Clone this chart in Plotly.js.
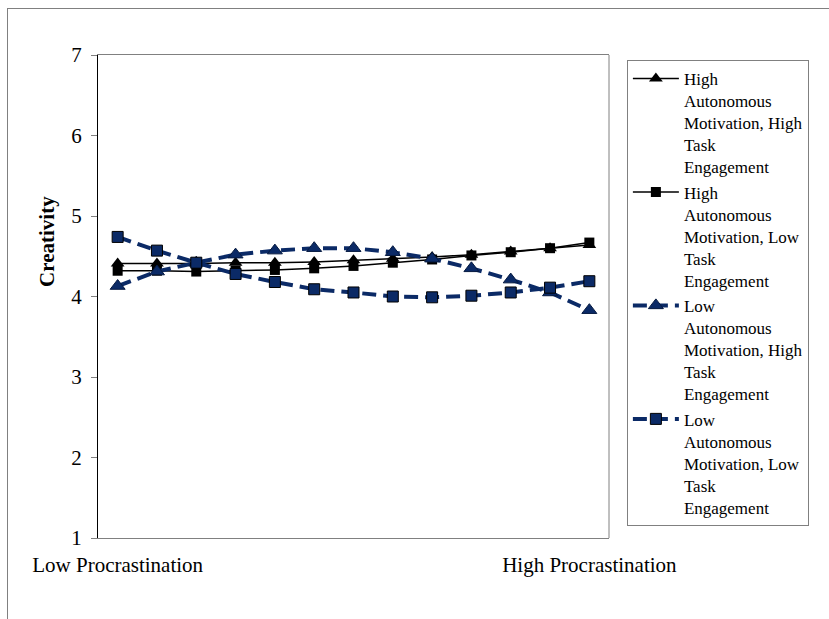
<!DOCTYPE html>
<html>
<head>
<meta charset="utf-8">
<script src="https://cdn.plot.ly/plotly-3.0.1.min.js"></script>
<style>
  html, body { margin: 0; padding: 0; background: #fff; }
  #wrap { position: relative; width: 829px; height: 619px; }
  #chart { width: 829px; height: 619px; }
  #frame { position: absolute; left: 7px; top: 8px; right: 0; bottom: 0;
           border-left: 1px solid #808080; border-top: 1px solid #808080; pointer-events: none; }
</style>
</head>
<body>
<div id="wrap">
  <div id="chart"></div>
  <div id="frame"></div>
</div>
<script>
// Procrastination steps (13 points from low to high)
const xSteps = [0, 1, 2, 3, 4, 5, 6, 7, 8, 9, 10, 11, 12];
const xTickVals = [0, 12];
const xTickText = ["Low Procrastination", "High Procrastination"];
const yTickVals = [1, 2, 3, 4, 5, 6, 7];

const seriesNames = [
  "High<br>Autonomous<br>Motivation, High<br>Task<br>Engagement",
  "High<br>Autonomous<br>Motivation, Low<br>Task<br>Engagement",
  "Low<br>Autonomous<br>Motivation, High<br>Task<br>Engagement",
  "Low<br>Autonomous<br>Motivation, Low<br>Task<br>Engagement"
];

const highAMHighTE = [4.41, 4.41, 4.41, 4.42, 4.42, 4.43, 4.45, 4.47, 4.49, 4.52, 4.56, 4.60, 4.64];
const highAMLowTE  = [4.32, 4.32, 4.31, 4.32, 4.33, 4.35, 4.38, 4.42, 4.46, 4.51, 4.55, 4.60, 4.67];
const lowAMHighTE  = [4.13, 4.31, 4.42, 4.52, 4.57, 4.60, 4.60, 4.55, 4.47, 4.35, 4.21, 4.05, 3.83];
const lowAMLowTE   = [4.74, 4.57, 4.42, 4.28, 4.18, 4.09, 4.05, 4.00, 3.99, 4.01, 4.05, 4.11, 4.19];

const navy = "#0b2a66";
const serif = "'Liberation Serif', 'Times New Roman', serif";

const traces = [
  { x: xSteps, y: highAMHighTE, name: seriesNames[0], type: "scatter", mode: "lines+markers",
    line: { color: "#000", width: 1.5 },
    marker: { symbol: "triangle-up", size: 12, color: "#000" } },
  { x: xSteps, y: highAMLowTE, name: seriesNames[1], type: "scatter", mode: "lines+markers",
    line: { color: "#000", width: 1.5 },
    marker: { symbol: "square", size: 10, color: "#000" } },
  { x: xSteps, y: lowAMHighTE, name: seriesNames[2], type: "scatter", mode: "lines+markers",
    line: { color: navy, width: 4, dash: "14px,7px" },
    marker: { symbol: "triangle-up", size: 13, color: navy, line: { color: "#061a40", width: 1 } } },
  { x: xSteps, y: lowAMLowTE, name: seriesNames[3], type: "scatter", mode: "lines+markers",
    line: { color: navy, width: 4, dash: "14px,7px" },
    marker: { symbol: "square", size: 11, color: navy, line: { color: "#000", width: 1 } } }
];

const layout = {
  width: 829, height: 619,
  margin: { l: 98, r: 220, t: 55, b: 81 },
  paper_bgcolor: "#fff", plot_bgcolor: "#fff",
  showlegend: true,
  font: { family: serif, color: "#000", size: 20 },
  xaxis: {
    range: [-0.5, 12.5], tickvals: xTickVals, ticktext: xTickText,
    showgrid: false, zeroline: false, showline: true, linecolor: "#808080", linewidth: 1,
    mirror: true, ticks: "", ticklabelstandoff: 8,
    tickfont: { family: serif, size: 21, color: "#000" }
  },
  yaxis: {
    range: [1, 7], tickvals: yTickVals, showgrid: false, zeroline: false,
    showline: true, linecolor: "#000", linewidth: 1,
    ticks: "outside", ticklen: 6, tickcolor: "#808080", ticklabelstandoff: 5,
    tickfont: { family: serif, size: 21, color: "#000" }
  },
  shapes: [
    { type: "line", xref: "paper", yref: "paper", x0: 1, x1: 1, y0: 0, y1: 1,
      line: { color: "#808080", width: 1 } }
  ],
  annotations: [
    { text: "<b>Creativity</b>", xref: "paper", yref: "paper", x: -0.0998, y: 0.613,
      textangle: -90, showarrow: false, font: { family: serif, size: 21, color: "#000" },
      xanchor: "center", yanchor: "middle" }
  ],
  legend: {
    x: 1.035, y: 0.99, xanchor: "left", yanchor: "top",
    bordercolor: "#808080", borderwidth: 1, bgcolor: "#fff",
    font: { family: serif, size: 17, color: "#000" },
    valign: "top", tracegroupgap: 0, itemwidth: 46
  }
};

Plotly.newPlot("chart", traces, layout, { displayModeBar: false, staticPlot: true });
</script>
</body>
</html>
